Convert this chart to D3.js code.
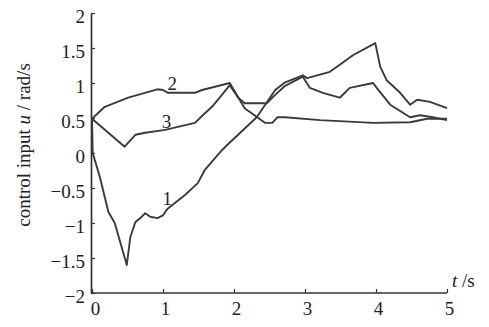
<!DOCTYPE html>
<html>
<head>
<meta charset="utf-8">
<script src="https://cdn.jsdelivr.net/npm/d3@7"></script>
<style>
  body { margin: 0; background: #fff; }
  svg text { font-family: "Liberation Serif", "Times New Roman", serif; fill: #222; }
</style>
</head>
<body>
<script>
// control input curves
var t1 = [0, 0.01, 0.11, 0.23, 0.32, 0.49, 0.54, 0.61, 0.68, 0.75, 0.82, 0.92, 1.0, 1.06, 1.31, 1.49, 1.59, 1.83, 1.90, 2.32, 2.58, 2.72, 2.97, 3.03, 3.35, 3.49, 3.68, 3.99, 4.06, 4.15, 4.34, 4.48, 4.58, 4.76, 5.0]
var u1 = [0.49, 0.0, -0.34, -0.84, -1.0, -1.6, -1.2, -0.99, -0.93, -0.86, -0.91, -0.93, -0.89, -0.8, -0.6, -0.43, -0.24, 0.04, 0.11, 0.51, 0.9, 1.01, 1.11, 1.07, 1.16, 1.26, 1.4, 1.57, 1.23, 1.04, 0.86, 0.69, 0.76, 0.73, 0.64]

var t2 = [0, 0.18, 0.51, 0.92, 1.0, 1.07, 1.45, 1.55, 1.94, 2.15, 2.44, 2.54, 2.61, 2.72, 3.21, 3.96, 4.48, 4.72, 5.0]
var u2 = [0.49, 0.66, 0.79, 0.91, 0.9, 0.86, 0.86, 0.9, 1.0, 0.64, 0.43, 0.43, 0.51, 0.51, 0.47, 0.43, 0.44, 0.49, 0.49]

var t3 = [0, 0.46, 0.61, 0.75, 1.03, 1.45, 1.56, 1.69, 1.83, 1.94, 2.06, 2.15, 2.46, 2.58, 2.72, 2.97, 3.07, 3.25, 3.49, 3.63, 3.96, 4.01, 4.2, 4.48, 4.62, 4.8, 5.0]
var u3 = [0.49, 0.09, 0.26, 0.29, 0.33, 0.43, 0.54, 0.66, 0.83, 0.97, 0.79, 0.71, 0.71, 0.83, 0.96, 1.09, 0.93, 0.86, 0.79, 0.93, 1.0, 0.93, 0.69, 0.51, 0.54, 0.51, 0.47]

// curve number labels (t, u of label baseline)
var labelNames = ["1", "2", "3"]
var labelT = [1.06, 1.13, 1.05]
var labelU = [-0.74, 0.9, 0.36]

var xTicks = [0, 1, 2, 3, 4, 5]
var yTicks = [-2, -1.5, -1, -0.5, 0, 0.5, 1, 1.5, 2]

var width = 489,
    height = 327

var x = d3.scaleLinear().domain([0, 5]).range([92, 447])
var y = d3.scaleLinear().domain([-2, 2]).range([293, 13])

var svg = d3.select("body")
  .append("svg")
    .attr("width", width)
    .attr("height", height)

var ink = "#333"
var serif = "'Liberation Serif', 'Times New Roman', serif"

// y axis, ticks pointing inwards
var yAxis = svg.append("g")
  .attr("transform", "translate(91,0)")
  .call(d3.axisLeft(y).tickValues(yTicks).tickSize(-4).tickSizeOuter(0).tickPadding(6)
    .tickFormat(function(d) { return d < 0 ? "\u2212" + Math.abs(d) : String(d) }))
yAxis.attr("font-family", serif)
yAxis.select(".domain").attr("stroke", ink).attr("stroke-width", 1.7)
yAxis.selectAll(".tick line").attr("stroke", ink).attr("stroke-width", 1.2)
yAxis.selectAll(".tick text")
  .attr("dy", "0.5em")
  .style("font-family", serif)
  .style("font-size", "19px")
  .attr("fill", "#222")

// x axis
var xAxis = svg.append("g")
  .attr("transform", "translate(0,293)")
  .call(d3.axisBottom(x).tickValues(xTicks).tickSize(-4).tickSizeOuter(0).tickPadding(8)
    .tickFormat(d3.format("d")))
xAxis.attr("font-family", serif)
xAxis.select(".domain").attr("stroke", ink).attr("stroke-width", 1.7)
  .attr("d", "M91,0H447")
xAxis.selectAll(".tick line").attr("stroke", ink).attr("stroke-width", 1.2)
xAxis.selectAll(".tick text")
  .attr("dy", "0.75em")
  .attr("dx", function(d) { return d === 0 ? 3 : 2 })
  .style("font-family", serif)
  .style("font-size", "19px")
  .attr("fill", "#222")

// axis titles
var ylab = svg.append("text")
  .attr("transform", "translate(30,145) rotate(-90)")
  .attr("text-anchor", "middle")
  .style("font-size", "19px")
ylab.append("tspan").text("control input ")
ylab.append("tspan").style("font-style", "italic").text("u")
ylab.append("tspan").text(" / rad/s")

var xlab = svg.append("text")
  .attr("x", 452)
  .attr("y", 287)
  .style("font-size", "19px")
xlab.append("tspan").style("font-style", "italic").text("t")
xlab.append("tspan").text(" /s")

// curves
var line = d3.line()
  .x(function(d) { return x(d[0]) })
  .y(function(d) { return y(d[1]) })

var series = [d3.zip(t1, u1), d3.zip(t2, u2), d3.zip(t3, u3)]

svg.selectAll("path.curve")
  .data(series)
  .enter()
  .append("path")
    .attr("class", "curve")
    .attr("d", line)
    .attr("fill", "none")
    .attr("stroke", "#3a3a3a")
    .attr("stroke-width", 1.9)
    .attr("stroke-linejoin", "round")

svg.selectAll("text.curvelabel")
  .data(labelNames)
  .enter()
  .append("text")
    .attr("class", "curvelabel")
    .attr("x", function(d, i) { return x(labelT[i]) })
    .attr("y", function(d, i) { return y(labelU[i]) })
    .attr("text-anchor", "middle")
    .style("font-size", "19px")
    .text(function(d) { return d })
</script>
</body>
</html>
